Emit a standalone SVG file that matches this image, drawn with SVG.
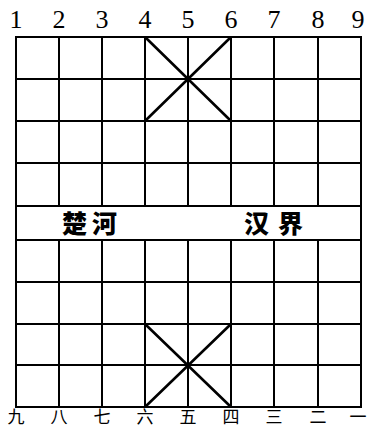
<svg xmlns="http://www.w3.org/2000/svg" width="369" height="429" viewBox="0 0 369 429">
<style>
.g{stroke:#000;stroke-width:2;fill:none;stroke-linecap:square}
.d{stroke:#000;stroke-width:2.6;fill:none}
.n{font-family:"Liberation Serif",serif;font-size:26px;fill:#000;text-anchor:middle}
.c{font-family:"Noto Sans CJK SC",sans-serif;font-size:17px;fill:#000;text-anchor:middle}
.r{font-family:"Noto Sans CJK SC",sans-serif;font-size:25px;font-weight:900;fill:#000}
</style>
<rect width="369" height="429" fill="#fff"/>
<g id="board" class="g">
<rect x="16" y="37" width="345" height="370"/>
<path d="M16 79H361M16 121H361M16 163H361M16 206H361M16 240H361M16 282H361M16 324H361M16 365H361"/>
<path d="M59 37V206M102 37V206M145 37V206M188 37V206M231 37V206M274 37V206M318 37V206"/>
<path d="M59 240V407M102 240V407M145 240V407M188 240V407M231 240V407M274 240V407M318 240V407"/>
</g>
<g id="palace-top" class="d"><path d="M145 37L231 121M231 37L145 121"/></g>
<g id="palace-bottom" class="d"><path d="M145 324L231 407M231 324L145 407"/></g>
<g id="top-numbers">
<text class="n" x="16" y="28">1</text><text class="n" x="59" y="28">2</text><text class="n" x="102" y="28">3</text><text class="n" x="145" y="28">4</text><text class="n" x="188" y="28">5</text><text class="n" x="231" y="28">6</text><text class="n" x="274" y="28">7</text><text class="n" x="318" y="28">8</text><text class="n" x="358" y="28">9</text>
</g>
<g id="bottom-numbers">
<text class="c" x="16" y="423">九</text><text class="c" x="59" y="423">八</text><text class="c" x="102" y="423">七</text><text class="c" x="145" y="423">六</text><text class="c" x="188" y="423">五</text><text class="c" x="231" y="423">四</text><text class="c" x="274" y="423">三</text><text class="c" x="318" y="423">二</text><text class="c" x="358" y="423">一</text>
</g>
<g id="river">
<text class="r" x="62" y="233" letter-spacing="5">楚河</text>
<text class="r" x="244" y="233" letter-spacing="9">汉界</text>
</g>
</svg>
